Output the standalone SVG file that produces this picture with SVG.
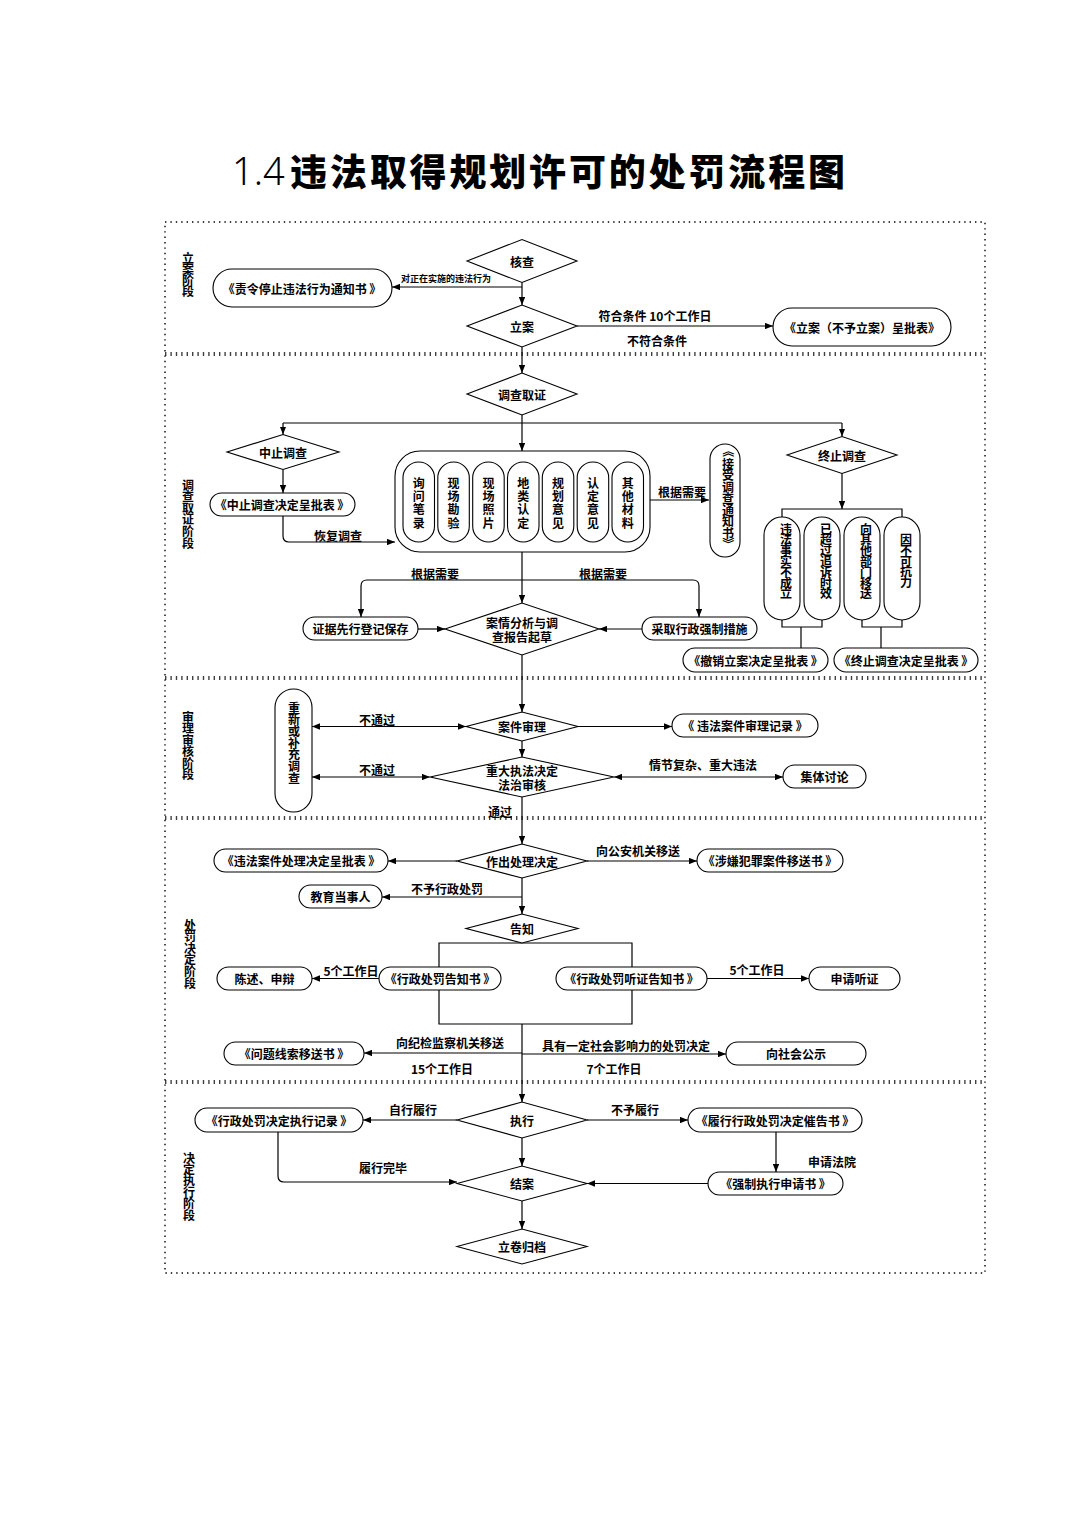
<svg xmlns="http://www.w3.org/2000/svg" width="1075" height="1520" viewBox="0 0 1075 1520">
<style>
.ln{fill:none;stroke:#000;stroke-width:1.2}
.ar{marker-end:url(#a)}
.da{marker-start:url(#a);marker-end:url(#a)}
.bx{fill:#fff;stroke:#000;stroke-width:1.1}
.fr{fill:none;stroke:#000;stroke-width:1.4;stroke-dasharray:1.4 4}
text{font-family:"Noto Sans CJK SC","Noto Sans",sans-serif;font-weight:700;font-size:12px;text-anchor:middle;dominant-baseline:central;fill:#000}
.s{font-size:11px}
.v{font-size:10px}
.xs{font-size:9px}
</style>
<defs>
<marker id="a" viewBox="0 0 10 8" refX="10" refY="4" markerWidth="8" markerHeight="6.4" orient="auto-start-reverse" markerUnits="userSpaceOnUse"><path d="M0,0 L10,4 L0,8 z" fill="#000"/></marker>
</defs>
<rect width="1075" height="1520" fill="#fff"/>

<g id="title">
<text x="232" y="170" style="text-anchor:start;font-family:'Noto Sans',sans-serif;font-weight:300;font-size:38px">1.4</text>
<text x="290" y="170" style="text-anchor:start;font-weight:900;font-size:37px" textLength="555">违法取得规划许可的处罚流程图</text>
</g>

<g id="frame">
<rect class="fr" x="165" y="222" width="820" height="1051"/>
<path class="fr" d="M165,353H985M165,355H985M165,677H985M165,679H985M165,817H985M165,819H985M165,1081H985M165,1083H985"/>
</g>

<g id="stage-labels" class="v">
<g id="stage1"><text x="188" y="257">立</text><text x="188" y="268">案</text><text x="188" y="279">阶</text><text x="188" y="290">段</text></g>
<g id="stage2"><text x="188" y="484">调</text><text x="188" y="495.6">查</text><text x="188" y="507.2">取</text><text x="188" y="518.8">证</text><text x="188" y="530.4">阶</text><text x="188" y="542">段</text></g>
<g id="stage3"><text x="188" y="716">审</text><text x="188" y="727.5">理</text><text x="188" y="739">审</text><text x="188" y="750.5">核</text><text x="188" y="762">阶</text><text x="188" y="773.5">段</text></g>
<g id="stage4"><text x="190" y="924">处</text><text x="190" y="935.6">罚</text><text x="190" y="947.2">决</text><text x="190" y="958.8">定</text><text x="190" y="970.4">阶</text><text x="190" y="982">段</text></g>
<g id="stage5"><text x="189" y="1157">决</text><text x="189" y="1168.4">定</text><text x="189" y="1179.8">执</text><text x="189" y="1191.2">行</text><text x="189" y="1202.6">阶</text><text x="189" y="1214">段</text></g>
</g>

<g id="connectors">
<path class="ln ar" d="M522,282.5V305"/>
<path class="ln ar" d="M522,287H392"/>
<path class="ln ar" d="M577,326H773"/>
<path class="ln ar" d="M522,347V373"/>
<path class="ln ar" d="M522,415V451"/>
<path class="ln" d="M283,423H842"/>
<path class="ln ar" d="M283,423V434.5"/>
<path class="ln ar" d="M842,423V436.5"/>
<path class="ln ar" d="M283,469.5V493"/>
<path class="ln ar" d="M283,516V536Q283,542 289,542H395"/>
<path class="ln ar" d="M650,500H709"/>
<path class="ln ar" d="M842,473.5V509"/>
<path class="ln" d="M782,517V509H902V517"/>
<path class="ln" d="M782,620V627H822V620M801,627V648"/>
<path class="ln" d="M862,620V627H902V620M881,627V648"/>
<path class="ln ar" d="M522,552V603"/>
<path class="ln ar" d="M522,580H367Q361,580 361,586V617"/>
<path class="ln ar" d="M522,580H693Q699,580 699,586V617"/>
<path class="ln ar" d="M418,629H445"/>
<path class="ln ar" d="M642,629H599"/>
<path class="ln ar" d="M522,655V712"/>
<path class="ln da" d="M466,726.5H312"/>
<path class="ln ar" d="M578,726.5H672"/>
<path class="ln ar" d="M522,741V757"/>
<path class="ln da" d="M430,777H312"/>
<path class="ln da" d="M614,777H783"/>
<path class="ln ar" d="M522,797V844"/>
<path class="ln ar" d="M457,861H388"/>
<path class="ln ar" d="M587,861H697"/>
<path class="ln ar" d="M522,878V914"/>
<path class="ln ar" d="M522,897H382"/>
<path class="ln" d="M439,943H632V1024H439Z"/>
<path class="ln ar" d="M379,978.5H312"/>
<path class="ln ar" d="M707,978.5H809"/>
<path class="ln ar" d="M522,1024V1102"/>
<path class="ln ar" d="M522,1053H364"/>
<path class="ln ar" d="M522,1054H726"/>
<path class="ln ar" d="M457,1120H363"/>
<path class="ln ar" d="M587,1120H688"/>
<path class="ln ar" d="M522,1138V1166"/>
<path class="ln ar" d="M278,1132V1176Q278,1182 284,1182H457"/>
<path class="ln ar" d="M776,1132V1172"/>
<path class="ln ar" d="M708,1183.5H587"/>
<path class="ln ar" d="M522,1201V1229"/>
</g>

<g id="connector-labels">
<text class="xs" x="446" y="278">对正在实施的违法行为</text>
<text x="655" y="315">符合条件 10个工作日</text>
<text x="657" y="340">不符合条件</text>
<text x="682" y="491">根据需要</text>
<text x="338" y="535">恢复调查</text>
<text x="435" y="573">根据需要</text>
<text x="603" y="573">根据需要</text>
<text x="377" y="719">不通过</text>
<text x="377" y="769">不通过</text>
<text x="703" y="764">情节复杂、重大违法</text>
<text x="500" y="811">通过</text>
<text x="638" y="850">向公安机关移送</text>
<text x="447" y="888">不予行政处罚</text>
<text x="351" y="970">5个工作日</text>
<text x="757" y="969">5个工作日</text>
<text x="450" y="1042">向纪检监察机关移送</text>
<text x="442" y="1068">15个工作日</text>
<text x="626" y="1045">具有一定社会影响力的处罚决定</text>
<text x="614" y="1068">7个工作日</text>
<text x="413" y="1109">自行履行</text>
<text x="635" y="1109">不予履行</text>
<text x="383" y="1167">履行完毕</text>
<text x="832" y="1161">申请法院</text>
</g>

<g id="n-hecha"><polygon class="bx" points="467,261 522,239.5 577,261 522,282.5"/><text x="522" y="261">核查</text></g>
<g id="n-zeling"><rect class="bx" x="213" y="269" width="179" height="38" rx="19"/><text x="302" y="288">《责令停止违法行为通知书 》</text></g>
<g id="n-lian"><polygon class="bx" points="467,326 522,305 577,326 522,347"/><text x="522" y="326">立案</text></g>
<g id="n-lianbiao"><rect class="bx" x="773" y="308" width="178" height="38" rx="19"/><text x="862" y="327">《立案（不予立案）呈批表》</text></g>

<g id="n-diaocha"><polygon class="bx" points="467,394 522,373 577,394 522,415"/><text x="522" y="394">调查取证</text></g>
<g id="n-zhongzhi"><polygon class="bx" points="227,452 283,434.5 339,452 283,469.5"/><text x="283" y="452">中止调查</text></g>
<g id="n-zhongzhibiao"><rect class="bx" x="210" y="493" width="145" height="23" rx="11.5"/><text x="282" y="504.5">《中止调查决定呈批表 》</text></g>

<g id="n-evidence">
<rect class="bx" x="395" y="451" width="255" height="101" rx="25"/>
<rect class="bx" x="403" y="462" width="31.5" height="80" rx="15.75"/>
<rect class="bx" x="437.8" y="462" width="31.5" height="80" rx="15.75"/>
<rect class="bx" x="472.7" y="462" width="31.5" height="80" rx="15.75"/>
<rect class="bx" x="507.5" y="462" width="31.5" height="80" rx="15.75"/>
<rect class="bx" x="542.3" y="462" width="31.5" height="80" rx="15.75"/>
<rect class="bx" x="577.2" y="462" width="31.5" height="80" rx="15.75"/>
<rect class="bx" x="612" y="462" width="31.5" height="80" rx="15.75"/>
<g><text x="418.8" y="482">询</text><text x="418.8" y="495.3">问</text><text x="418.8" y="508.6">笔</text><text x="418.8" y="522">录</text></g>
<g><text x="453.5" y="482">现</text><text x="453.5" y="495.3">场</text><text x="453.5" y="508.6">勘</text><text x="453.5" y="522">验</text></g>
<g><text x="488.4" y="482">现</text><text x="488.4" y="495.3">场</text><text x="488.4" y="508.6">照</text><text x="488.4" y="522">片</text></g>
<g><text x="523.2" y="482">地</text><text x="523.2" y="495.3">类</text><text x="523.2" y="508.6">认</text><text x="523.2" y="522">定</text></g>
<g><text x="558" y="482">规</text><text x="558" y="495.3">划</text><text x="558" y="508.6">意</text><text x="558" y="522">见</text></g>
<g><text x="593" y="482">认</text><text x="593" y="495.3">定</text><text x="593" y="508.6">意</text><text x="593" y="522">见</text></g>
<g><text x="627.8" y="482">其</text><text x="627.8" y="495.3">他</text><text x="627.8" y="508.6">材</text><text x="627.8" y="522">料</text></g>
</g>

<g id="n-jieshou" class="v">
<rect class="bx" x="710" y="444" width="30" height="113" rx="15"/>
<text x="728" y="451" transform="rotate(90 728 451)">《</text>
<text x="728" y="463">接</text><text x="728" y="474.5">受</text><text x="728" y="486">调</text><text x="728" y="497.5">查</text><text x="728" y="509">通</text><text x="728" y="520.5">知</text><text x="728" y="532">书</text>
<text x="728" y="543.5" transform="rotate(90 728 543.5)">》</text>
</g>

<g id="n-zhongzhi2"><polygon class="bx" points="787,455 842,436.5 897,455 842,473.5"/><text x="842" y="455">终止调查</text></g>
<g id="n-reason1" class="v"><rect class="bx" x="764" y="517" width="36" height="103" rx="18"/>
<text x="786" y="528">违</text><text x="786" y="538.8">法</text><text x="786" y="549.6">事</text><text x="786" y="560.4">实</text><text x="786" y="571.2">不</text><text x="786" y="582">成</text><text x="786" y="592.8">立</text></g>
<g id="n-reason2" class="v"><rect class="bx" x="804" y="517" width="36" height="103" rx="18"/>
<text x="826" y="528">已</text><text x="826" y="538.8">超</text><text x="826" y="549.6">过</text><text x="826" y="560.4">追</text><text x="826" y="571.2">诉</text><text x="826" y="582">时</text><text x="826" y="592.8">效</text></g>
<g id="n-reason3" class="v"><rect class="bx" x="844" y="517" width="36" height="103" rx="18"/>
<text x="866" y="528">向</text><text x="866" y="538.8">其</text><text x="866" y="549.6">他</text><text x="866" y="560.4">部</text><text x="866" y="571.2">门</text><text x="866" y="582">移</text><text x="866" y="592.8">送</text></g>
<g id="n-reason4" class="v"><rect class="bx" x="884" y="517" width="36" height="103" rx="18"/>
<text x="906" y="538.4">因</text><text x="906" y="549.2">不</text><text x="906" y="560">可</text><text x="906" y="570.8">抗</text><text x="906" y="581.6">力</text></g>
<g id="n-chexiao"><rect class="bx" x="683" y="648" width="145" height="24" rx="12"/><text x="755.5" y="660">《撤销立案决定呈批表 》</text></g>
<g id="n-zhongzhibiao2"><rect class="bx" x="834" y="648" width="144" height="24" rx="12"/><text x="906" y="660">《终止调查决定呈批表 》</text></g>

<g id="n-anqing"><polygon class="bx" points="445,629 522,603 599,629 522,655"/><text x="522" y="622">案情分析与调</text><text x="522" y="636">查报告起草</text></g>
<g id="n-zhengju"><rect class="bx" x="303" y="617" width="115" height="23" rx="11.5"/><text x="360.5" y="628.5">证据先行登记保存</text></g>
<g id="n-caiqu"><rect class="bx" x="642" y="617" width="115" height="23" rx="11.5"/><text x="699.5" y="628.5">采取行政强制措施</text></g>

<g id="n-anjian"><polygon class="bx" points="466,726.5 522,712 578,726.5 522,741"/><text x="522" y="726.5">案件审理</text></g>
<g id="n-chongxin" class="s"><rect class="bx" x="275" y="689" width="37" height="123" rx="18.5"/>
<text x="294" y="707">重</text><text x="294" y="718.7">新</text><text x="294" y="730.4">或</text><text x="294" y="742">补</text><text x="294" y="753.7">充</text><text x="294" y="765.4">调</text><text x="294" y="777">查</text></g>
<g id="n-zhongda"><polygon class="bx" points="430,777 522,757 614,777 522,797"/><text x="522" y="770">重大执法决定</text><text x="522" y="784">法治审核</text></g>
<g id="n-shenlijilu"><rect class="bx" x="672" y="714" width="146" height="23" rx="11.5"/><text x="745" y="725.5">《 违法案件审理记录 》</text></g>
<g id="n-jiti"><rect class="bx" x="783" y="765" width="83" height="23" rx="11.5"/><text x="824.5" y="776.5">集体讨论</text></g>

<g id="n-zuochu"><polygon class="bx" points="457,861 522,844 587,861 522,878"/><text x="522" y="861">作出处理决定</text></g>
<g id="n-chulibiao"><rect class="bx" x="214" y="849" width="174" height="23" rx="11.5"/><text x="301" y="860.5">《违法案件处理决定呈批表 》</text></g>
<g id="n-yisong"><rect class="bx" x="697" y="849" width="146" height="23" rx="11.5"/><text x="770" y="860.5">《涉嫌犯罪案件移送书 》</text></g>
<g id="n-jiaoyu"><rect class="bx" x="299" y="885" width="83" height="23" rx="11.5"/><text x="340.5" y="896.5">教育当事人</text></g>
<g id="n-gaozhi"><polygon class="bx" points="466,928.5 522,914 578,928.5 522,943"/><text x="522" y="928.5">告知</text></g>
<g id="n-gaozhishu"><rect class="bx" x="379" y="967" width="122" height="23" rx="11.5"/><text x="440" y="978.5">《行政处罚告知书 》</text></g>
<g id="n-tingzheng"><rect class="bx" x="556" y="967" width="151" height="23" rx="11.5"/><text x="631.5" y="978.5">《行政处罚听证告知书 》</text></g>
<g id="n-chenshu"><rect class="bx" x="217" y="967" width="95" height="23" rx="11.5"/><text x="264.5" y="978.5">陈述、申辩</text></g>
<g id="n-shenqing"><rect class="bx" x="809" y="967" width="91" height="23" rx="11.5"/><text x="854.5" y="978.5">申请听证</text></g>
<g id="n-wenti"><rect class="bx" x="224" y="1042" width="140" height="23" rx="11.5"/><text x="294" y="1053.5">《问题线索移送书 》</text></g>
<g id="n-gongshi"><rect class="bx" x="726" y="1042" width="140" height="23" rx="11.5"/><text x="796" y="1053.5">向社会公示</text></g>

<g id="n-zhixing"><polygon class="bx" points="457,1120 522,1102 587,1120 522,1138"/><text x="522" y="1120">执行</text></g>
<g id="n-zhixingjilu"><rect class="bx" x="195" y="1108" width="168" height="24" rx="12"/><text x="279" y="1120">《行政处罚决定执行记录 》</text></g>
<g id="n-cuigao"><rect class="bx" x="688" y="1108" width="174" height="24" rx="12"/><text x="775" y="1120">《履行行政处罚决定催告书 》</text></g>
<g id="n-qiangzhi"><rect class="bx" x="708" y="1172" width="135" height="23" rx="11.5"/><text x="775.5" y="1183.5">《强制执行申请书 》</text></g>
<g id="n-jiean"><polygon class="bx" points="457,1183.5 522,1166 587,1183.5 522,1201"/><text x="522" y="1183.5">结案</text></g>
<g id="n-lijuan"><polygon class="bx" points="457,1246.5 522,1229 587,1246.5 522,1264"/><text x="522" y="1246.5">立卷归档</text></g>
</svg>
